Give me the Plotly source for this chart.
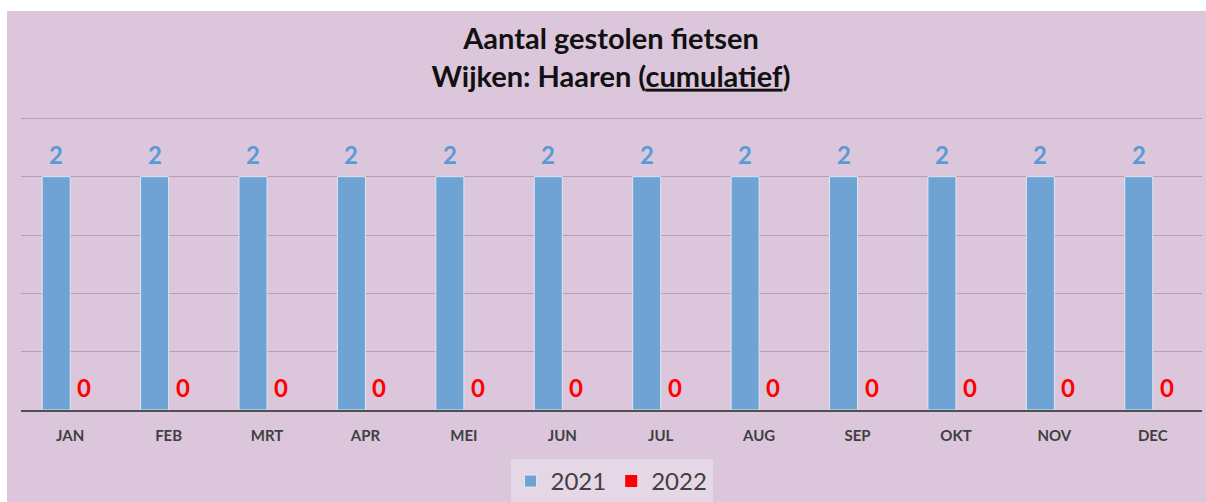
import plotly.graph_objects as go

months = ["JAN", "FEB", "MRT", "APR", "MEI", "JUN", "JUL", "AUG", "SEP", "OKT", "NOV", "DEC"]
v2021 = [2, 2, 2, 2, 2, 2, 2, 2, 2, 2, 2, 2]
v2022 = [0, 0, 0, 0, 0, 0, 0, 0, 0, 0, 0, 0]

BG = "#dcc6dc"
FONT = "Lato"
W, H = 1206, 502
ML, MR, MT, MB = 21, 4, 116, 92
PW, PH = W - ML - MR, H - MT - MB
BARGAP = 0.43

fig = go.Figure()
fig.add_trace(
    go.Bar(
        x=months, y=v2021, name="2021",
        marker=dict(color="#6fa3d3", line=dict(color="#dbe8f5", width=1)),
    )
)
fig.add_trace(
    go.Bar(
        x=months, y=v2022, name="2022",
        marker=dict(color="#ff0000", line=dict(color="#ff0000", width=0)),
    )
)

# value labels above each bar (half a bar width left/right of the category centre)
half_bar = PW / len(months) * (1 - BARGAP) / 4
annotations = []
for series, color, shift in [(v2021, "#5b9bd5", -half_bar), (v2022, "#ff0000", half_bar)]:
    for m, v in zip(months, series):
        annotations.append(dict(
            x=m, y=v, xref="x", yref="y", text=f"<b>{v}</b>", showarrow=False,
            xshift=shift, yshift=6, yanchor="bottom",
            font=dict(family=FONT, size=24, color=color),
        ))

fig.update_layout(
    width=W, height=H,
    paper_bgcolor=BG, plot_bgcolor=BG,
    margin=dict(l=ML, r=MR, t=MT, b=MB, autoexpand=False),
    barmode="group", bargap=BARGAP, bargroupgap=0,
    font=dict(family=FONT, color="#404040"),
    title=dict(
        text="<b>Aantal gestolen fietsen<br>Wijken: Haaren (<u>cumulatief</u>)</b>",
        x=611 / W, xanchor="center", y=1 - 49 / H, yanchor="middle",
        font=dict(family=FONT, size=29, color="#111111"),
    ),
    xaxis=dict(
        showline=True, linecolor="#505050", linewidth=2,
        showgrid=False, ticks="", ticklabelstandoff=11,
        tickfont=dict(family=FONT, size=15, color="#404040", weight="bold"),
    ),
    yaxis=dict(
        range=[0, 2.52], dtick=0.5, showticklabels=False,
        showgrid=True, gridcolor="rgba(120,100,120,0.4)", gridwidth=1,
        zeroline=False,
    ),
    legend=dict(
        orientation="h", x=0.5, xanchor="center", y=-49 / PH, yanchor="top",
        bgcolor="#e6d7e6", font=dict(family=FONT, size=24, color="#404040"),
        itemwidth=30, traceorder="normal",
    ),
    showlegend=True,
    annotations=annotations,
    shapes=[
        dict(type="rect", xref="paper", yref="paper",
             x0=-ML / PW, x1=1 + MR / PW, y0=1 + (MT - 11) / PH, y1=1 + MT / PH,
             fillcolor="white", line=dict(width=0), layer="above"),
        dict(type="rect", xref="paper", yref="paper",
             x0=-ML / PW, x1=-(ML - 7) / PW, y0=-MB / PH, y1=1 + MT / PH,
             fillcolor="white", line=dict(width=0), layer="above"),
    ],
)

fig.write_html(
    "out.html",
    config={"displayModeBar": False},
    post_script="document.body.style.margin='0';",
)
